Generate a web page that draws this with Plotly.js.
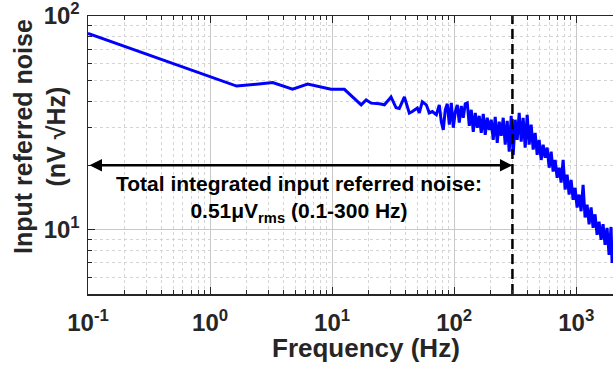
<!DOCTYPE html>
<html><head><meta charset="utf-8">
<script src="https://cdn.plot.ly/plotly-3.0.1.min.js"></script>
<style>html,body{margin:0;padding:0;background:#fff}#chart{width:613px;height:366px}</style>
</head><body><div id="chart"></div>
<script>
// Frequency (Hz) and input referred noise (nV/√Hz)
const freq = [
  0.1, 1.65, 3.26, 4.74, 6.3, 8.0, 9.8, 12.6, 14.5, 17.3, 19.0, 20.9, 24.4, 26.8, 30.4, 33.4, 35.5, 39.1, 42.9, 45.4, 49.9, 51.8, 54.8, 59.1, 62.5, 66.2, 71.4,
  75.5, 78.4, 81.4, 84.5, 87.8, 91.2, 94.7, 98.3, 102.1, 106.0,
  110.1, 114.3, 118.7, 123.2, 128.0, 132.9, 138.0, 143.3, 148.8, 154.5,
  160.4, 166.6, 173.0, 179.6, 186.5, 193.7, 201.1, 208.8, 216.8, 225.2,
  233.8, 242.8, 252.1, 261.8, 271.8, 282.3, 293.1, 304.4, 316.0, 328.2,
  340.8, 353.9, 367.4, 381.6, 396.2, 411.4, 427.2, 443.6, 460.7, 478.3,
  496.7, 515.8, 535.6, 556.1, 577.5, 599.7, 622.7, 646.6, 671.4, 697.2,
  724.0, 751.8, 780.6, 810.6, 841.7, 874.0, 907.6, 942.4, 978.6, 1016,
  1055, 1096, 1138, 1181, 1227, 1274, 1323, 1374, 1426, 1481,
  1538, 1597, 1658, 1722, 1788, 1857, 1928, 1965
];
const noise = [
  83, 47, 48.8, 45.4, 48, 46.5, 45.4, 45.4, 42, 38.4, 40.5, 39.1, 38.8, 38.4, 41.8, 37.2, 36.9, 41.8, 35.1, 35.7, 37.1, 35.2, 39.7, 38.4, 35.2, 35.7, 34.5,
  38.4, 32.0, 29.3, 36.4, 38.8, 31.0, 39.2, 30.0, 35.6, 38.4,
  31.7, 37.9, 33.4, 38.8, 39.2, 30.6, 36.4, 28.7, 35.2, 30.0,
  34.1, 28.4, 34.8, 27.8, 33.4, 29.3, 32.7, 26.3, 33.7, 25.5,
  32.0, 27.5, 33.4, 25.0, 32.3, 23.2, 34.1, 22.4, 32.7, 26.3,
  35.2, 25.8, 33.4, 24.2, 34.5, 25.0, 31.0, 23.7, 28.4, 22.4,
  26.3, 21.2, 25.0, 21.7, 24.2, 19.5, 23.2, 18.7, 21.2, 17.5,
  19.5, 16.6, 21.2, 15.4, 18.1, 14.6, 17.1, 13.8, 15.7, 12.7,
  14.6, 12.2, 16.2, 11.4, 13.1, 10.6, 12.7, 10.2, 11.8, 9.46,
  10.9, 8.97, 10.6, 8.49, 10.2, 7.62, 10.3, 6.99
];
const xTickVals = [0.1, 1, 10, 100, 1000];
const xTickText = ['10<sup>-1</sup>', '10<sup>0</sup>', '10<sup>1</sup>', '10<sup>2</sup>', '10<sup>3</sup>'];
const yTickVals = [10, 100];
const yTickText = ['10<sup>1</sup>', '10<sup>2</sup>'];
const xRange = [0.1, 2000];
const yRange = [5, 100];
const cutoffFreq = 300;     // upper integration bound
const startFreq = 0.1;      // lower integration bound
const arrowLevel = 20;      // nV/√Hz level of the double arrow
const noteLine1 = 'Total integrated input referred noise:';
const noteLine2 = '0.51μV<sub>rms</sub> (0.1-300 Hz)';

function minorVals(lo, hi) {
  const v = [];
  for (let e = Math.floor(Math.log10(lo)); e <= Math.ceil(Math.log10(hi)); e++) {
    for (let d = 2; d <= 9; d++) { const t = d * Math.pow(10, e); if (t > lo && t < hi) v.push(t); }
  }
  return v;
}

const fontFam = 'Arial, "Liberation Sans", sans-serif';
const tickFont = {family: fontFam, size: 24, color: '#262626', weight: 'bold'};

const traces = [
  {x: freq, y: noise, type: 'scatter', mode: 'lines', line: {color: '#0000ff', width: 3}, hoverinfo: 'skip'},
  {x: [cutoffFreq, cutoffFreq], y: yRange, type: 'scatter', mode: 'lines', line: {color: '#000', width: 2.5, dash: '10px,5px'}, hoverinfo: 'skip'}
];

const axisCommon = {
  type: 'log', showline: true, linecolor: '#262626', linewidth: 1.5,
  ticks: 'inside', ticklen: 7, tickcolor: '#262626', tickwidth: 1,
  showgrid: true, gridcolor: '#c8c8c8', gridwidth: 1, zeroline: false,
  tickmode: 'array', tickfont: tickFont, ticklabeloverflow: 'allow'
};

const layout = {
  width: 613, height: 366,
  margin: {l: 88, r: 0, t: 16, b: 72},
  paper_bgcolor: '#fff', plot_bgcolor: '#fff',
  showlegend: false,
  xaxis: Object.assign({}, axisCommon, {
    range: xRange.map(Math.log10), tickvals: xTickVals, ticktext: xTickText,
    mirror: 'ticks', ticklabelstandoff: 7,
    minor: {tickmode: 'array', tickvals: minorVals(xRange[0], xRange[1]), showgrid: true, griddash: 'dot', gridcolor: '#d4d4d4', gridwidth: 1, ticks: 'inside', ticklen: 4, tickcolor: '#262626'}
  }),
  yaxis: Object.assign({}, axisCommon, {
    range: yRange.map(Math.log10), tickvals: yTickVals, ticktext: yTickText,
    ticklabelstandoff: 2,
    minor: {tickmode: 'array', tickvals: minorVals(yRange[0], yRange[1]), showgrid: true, griddash: 'dot', gridcolor: '#d4d4d4', gridwidth: 1, ticks: 'inside', ticklen: 4, tickcolor: '#262626'}
  }),
  annotations: [
    {x: Math.log10(cutoffFreq), y: Math.log10(arrowLevel), ax: Math.log10(startFreq), ay: Math.log10(arrowLevel),
     xref: 'x', yref: 'y', axref: 'x', ayref: 'y', text: '', showarrow: true,
     arrowhead: 2, startarrowhead: 2, arrowside: 'end+start', arrowsize: 1, startarrowsize: 1, arrowwidth: 2.5, arrowcolor: '#000'},
    {xref: 'paper', yref: 'paper', x: 0.402, y: 0.340, xanchor: 'center', yanchor: 'middle', showarrow: false,
     text: noteLine1 + '<br>' + noteLine2, align: 'center',
     font: {family: fontFam, size: 21, color: '#000', weight: 'bold'}},
    {xref: 'paper', yref: 'paper', x: 0.5295, y: -0.195, xanchor: 'center', yanchor: 'middle', showarrow: false,
     text: 'Frequency (Hz)', font: {family: fontFam, size: 26, color: '#262626', weight: 'bold'}},
    {xref: 'paper', yref: 'paper', x: -0.0914, y: 0.565, xanchor: 'center', yanchor: 'middle', showarrow: false, textangle: -90,
     text: 'Input referred noise<br>(nV √Hz)', font: {family: fontFam, size: 25, color: '#262626', weight: 'bold'}}
  ]
};

Plotly.newPlot('chart', traces, layout, {staticPlot: true, displayModeBar: false});
</script>
</body></html>
